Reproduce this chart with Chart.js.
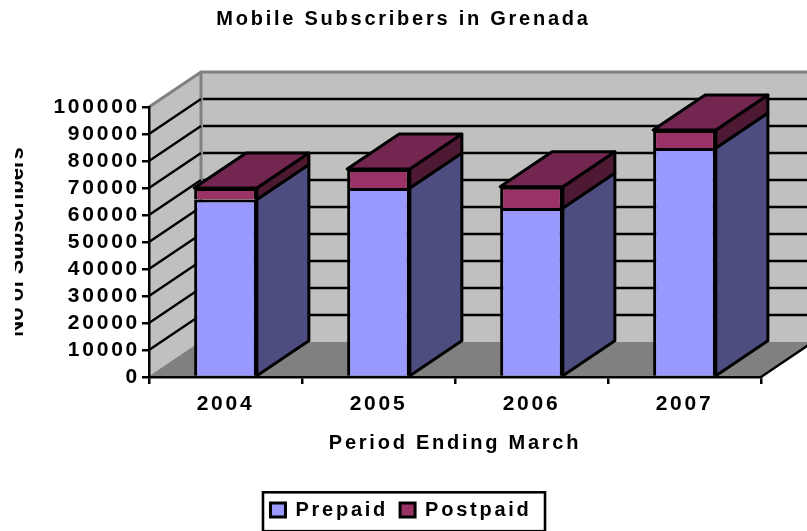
<!DOCTYPE html>
<html><head><meta charset="utf-8">
<style>html,body{margin:0;padding:0;background:#fff}#w{width:807px;height:531px;position:relative}</style>
<script src="https://cdn.jsdelivr.net/npm/chart.js@4"></script>
</head><body><div id="w"><canvas id="c" width="807" height="531"></canvas></div>
<script>
const categories = ['2004','2005','2006','2007'];
const prepaid  = [65700, 70000, 62600, 84800];
const postpaid = [4300, 7000, 7900, 6700];
const yMax = 100000;
const yStep = 10000;
const FF = '"Liberation Sans", Arial, sans-serif';
const DX = 52, DY = -35;
const SPACING = '2.75px';
const LEGEND_SHIFT = 5;
const shades = [
  {side:'#4d4d80'},
  {side:'#4e1a33', top:'#732650'}
];
const INK = '#000';

function poly(ctx, pts, fill, stroke, lw){
  ctx.beginPath();
  pts.forEach((p,i)=> i?ctx.lineTo(p[0],p[1]):ctx.moveTo(p[0],p[1]));
  ctx.closePath();
  if(fill){ctx.fillStyle=fill;ctx.fill();}
  if(stroke){ctx.strokeStyle=stroke;ctx.lineWidth=lw;ctx.lineJoin='round';ctx.stroke();}
}
const box3d = {
  id:'box3d',
  beforeUpdate(chart){ chart.ctx.letterSpacing=SPACING; },
  afterLayout(chart){ chart.legend.left-=LEGEND_SHIFT; },
  beforeDraw(chart){
    const ctx=chart.ctx, a=chart.chartArea, y=chart.scales.y;
    ctx.letterSpacing=SPACING;
    if(!y._wrappedTitle){
      const orig=y.drawTitle;
      y.drawTitle=function(){
        ctx.save();
        ctx.letterSpacing='0px';
        ctx.beginPath();ctx.rect(15,0,chart.width,chart.height);ctx.clip();
        orig.apply(this,arguments);
        ctx.restore();
      };
      y._wrappedTitle=true;
    }
    const l=a.left, r=a.right, b=a.bottom, t=a.top;
    ctx.save();
    poly(ctx,[[l+DX,t+DY],[r+DX,t+DY],[r+DX,b+DY],[l+DX,b+DY]],'#c0c0c0');
    poly(ctx,[[l,b],[l+DX,b+DY],[l+DX,t+DY],[l,t]],'#c0c0c0');
    poly(ctx,[[l,b],[r,b],[r+DX,b+DY],[l+DX,b+DY]],'#808080');
    ctx.lineCap='butt';
    ctx.strokeStyle='#808080';ctx.lineWidth=3;
    ctx.beginPath();ctx.moveTo(l,t);ctx.lineTo(l+DX,t+DY);ctx.lineTo(r+DX,t+DY);
    ctx.moveTo(l+DX,t+DY);ctx.lineTo(l+DX,b+DY);ctx.stroke();
    ctx.lineWidth=1.5;
    ctx.beginPath();ctx.moveTo(l,b);ctx.lineTo(l+DX,b+DY);ctx.stroke();
    y.ticks.forEach(tk=>{
      if(tk.value===0||tk.value===yMax) return;
      const p=y.getPixelForValue(tk.value);
      ctx.strokeStyle=INK;ctx.lineWidth=2.4;
      ctx.beginPath();ctx.moveTo(l,p);ctx.lineTo(l+DX,p+DY);
      ctx.moveTo(l+DX+2,p+DY);ctx.lineTo(r+DX,p+DY);ctx.stroke();
    });
    ctx.strokeStyle=INK;ctx.lineWidth=2.4;
    ctx.beginPath();ctx.moveTo(r,b);ctx.lineTo(r+DX,b+DY);ctx.stroke();
    ctx.restore();
  },
  beforeDatasetsDraw(chart){
    const ctx=chart.ctx, lw=3;
    ctx.save();
    chart.data.datasets.forEach((ds,di)=>{
      chart.getDatasetMeta(di).data.forEach(el=>{
        const p=el.getProps(['x','y','base','width'],true);
        const R=p.x+p.width/2, L=p.x-p.width/2;
        poly(ctx,[[R,p.base],[R+DX,p.base+DY],[R+DX,p.y+DY],[R,p.y]],shades[di].side,INK,lw);
        if(di===chart.data.datasets.length-1)
          poly(ctx,[[L,p.y],[R,p.y],[R+DX,p.y+DY],[L+DX,p.y+DY]],shades[di].top,INK,lw);
      });
    });
    ctx.restore();
  },
  afterDraw(chart){
    const ctx=chart.ctx;
    ctx.save();
    const hb=chart.legend.legendHitBoxes;
    const x0=Math.min(...hb.map(h=>h.left))-5-LEGEND_SHIFT/2, x1=Math.max(...hb.map(h=>h.left+h.width))+16-LEGEND_SHIFT/2;
    ctx.strokeStyle=INK;ctx.lineWidth=2.6;
    const top=chart.chartArea.bottom+115.3;
    ctx.strokeRect(x0,top,x1-x0,chart.height-top+0.2);
    ctx.restore();
  }
};
new Chart(document.getElementById('c'),{
  type:'bar',
  data:{labels:categories,datasets:[
    {label:'Prepaid',data:prepaid,backgroundColor:'#9999ff',borderColor:INK,borderWidth:3,stack:'s'},
    {label:'Postpaid',data:postpaid,backgroundColor:'#993366',borderColor:INK,borderWidth:3,stack:'s'}
  ]},
  plugins:[box3d],
  options:{
    responsive:false,animation:false,devicePixelRatio:1,
    layout:{autoPadding:false,padding:{bottom:1}},
    datasets:{bar:{categoryPercentage:1,barPercentage:0.41}},
    plugins:{
      tooltip:{enabled:false},
      title:{display:true,text:'Mobile Subscribers in Grenada',color:INK,
        font:{family:FF,size:20,weight:'bold',lineHeight:1.2},padding:{top:7,bottom:76}},
      legend:{position:'bottom',align:'center',
        labels:{font:{family:FF,size:20,weight:'bold'},color:INK,boxWidth:15,boxHeight:14,padding:12}}
    },
    scales:{
      x:{stacked:true,
        afterFit(s){s.height=111;},
        border:{color:INK,width:2.5},
        grid:{drawOnChartArea:false,color:INK,lineWidth:2.5,tickLength:7,offset:true},
        ticks:{color:INK,font:{family:FF,size:21,weight:'bold'},padding:7.5,maxRotation:0},
        title:{display:true,text:'Period Ending March',color:INK,font:{family:FF,size:20,weight:'bold'},padding:{top:0,bottom:33}}
      },
      y:{stacked:true,min:0,max:yMax,
        afterFit(s){s.width=149;},
        border:{color:INK,width:2.5},
        grid:{drawOnChartArea:false,color:INK,lineWidth:2.5,tickLength:7},
        ticks:{stepSize:yStep,autoSkip:false,color:INK,font:{family:FF,size:21,weight:'bold'},padding:2,callback:v=>String(v)},
        title:{display:true,text:'No of Subscribers',color:INK,font:{family:FF,size:22,weight:'bold'},padding:{top:4,bottom:0}}
      },
      rightGutter:{type:'linear',position:'right',
        afterFit(s){s.width=46;},
        border:{display:false},grid:{display:false},ticks:{display:false}
      }
    }
  }
});
</script></body></html>
